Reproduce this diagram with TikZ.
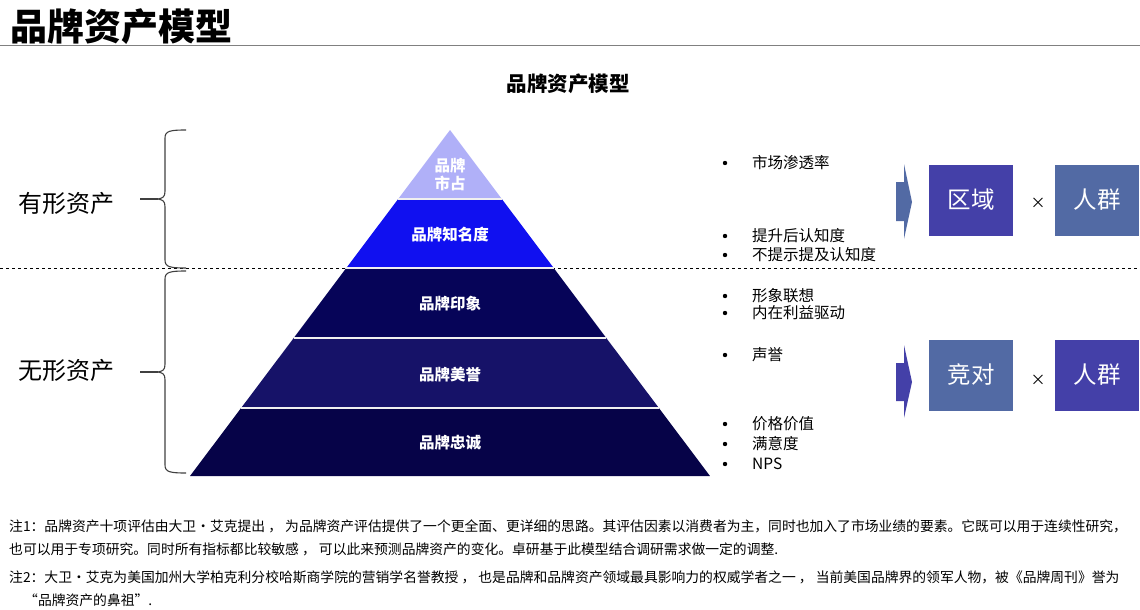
\documentclass[tikz,border=0pt]{standalone}
\usepackage{fontspec}
\setmainfont{Noto Sans CJK SC}
\usetikzlibrary{positioning}

\definecolor{topviolet}{RGB}{176,176,248}
\definecolor{brightblue}{RGB}{16,16,240}
\definecolor{navyA}{RGB}{6,4,88}
\definecolor{navyB}{RGB}{22,18,104}
\definecolor{navyC}{RGB}{6,3,72}
\definecolor{boxpurple}{RGB}{68,64,168}
\definecolor{boxsteel}{RGB}{82,106,164}
\definecolor{bracegray}{RGB}{64,64,64}

\tikzset{
  layerlabel/.style={text=white,font=\fontsize{15.5}{18}\selectfont\bfseries,align=center,inner sep=0},
  bultext/.style={anchor=west,inner sep=0,font=\fontsize{15.5}{18}\selectfont},
  sidebox/.style={minimum width=84,minimum height=71,inner sep=0,text=white,font=\fontsize{23.5}{27}\selectfont},
  notetext/.style={anchor=west,inner sep=0,font=\fontsize{13.8}{16}\selectfont},
  assetlabel/.style={anchor=west,inner sep=0,font=\fontsize{24}{28}\selectfont}
}

% bullet line: name, y, text
\newcommand{\bulletline}[3]{%
  \fill (725,#2) circle (2.2);
  \node[bultext] (#1) at (752,#2) {#3};}

% brace pointing left: top y, bottom y
\newcommand{\assetbrace}[2]{%
  \pgfmathsetmacro{\ym}{(#1+#2)/2}
  \draw[bracegray,line width=1.1] (186,#1) .. controls (170,#1) and (165,#1+1) .. (165,#1+8)
    -- (165,\ym-8) .. controls (165,\ym-2) and (163,\ym-1) .. (158,\ym)
    .. controls (163,\ym+1) and (165,\ym+2) .. (165,\ym+8)
    -- (165,#2-8) .. controls (165,#2-1) and (170,#2) .. (186,#2);
  \draw[bracegray,line width=1.1] (140,\ym) -- (158,\ym);}

\begin{document}
\begin{tikzpicture}[x=1pt,y=-1pt]
\useasboundingbox (0,0) rectangle (1140,610);

% heading
\node[anchor=west,inner sep=0,font=\fontsize{37}{41}\selectfont\bfseries] (heading) at (10,27) {品牌资产模型};
\draw[gray,line width=1] (0,46) -- (1140,46);
\node[inner sep=0,font=\fontsize{20.5}{24}\selectfont\bfseries] (subtitle) at (568,84) {品牌资产模型};

% divider between tangible and intangible
\draw[dashed,line width=0.8] (0,268) -- (1140,268);

% pyramid layers
\foreach \ya/\yb/\col in {199/268/brightblue,268/338/navyA,338/408/navyB,408/476/navyC} {
  \fill[\col] ({450-(\ya-130)*0.7514},\ya) -- ({450+(\ya-130)*0.7514},\ya)
    -- ({450+(\yb-130)*0.7514},\yb) -- ({450-(\yb-130)*0.7514},\yb) -- cycle;
}
\fill[topviolet] (450,130) -- ({450+69*0.7514},199) -- ({450-69*0.7514},199) -- cycle;
\foreach \y in {199,268,338,408} {
  \draw[white!88!gray,line width=1.6] ({450-(\y-130)*0.7514},\y) -- ({450+(\y-130)*0.7514},\y);
}

\node[layerlabel] (share) at (450,175) {品牌\\市占};
\node[layerlabel] (aware) at (450,235) {品牌知名度};
\node[layerlabel] (image) at (450,304) {品牌印象};
\node[layerlabel] (repute) at (450,375) {品牌美誉};
\node[layerlabel] (loyal) at (450,443) {品牌忠诚};

% braces and asset labels
\assetbrace{130}{268}
\assetbrace{271}{473}
\node[assetlabel] (tangible) at (18,203) {有形资产};
\node[assetlabel] (intangible) at (18,370) {无形资产};

% indicators
\bulletline{pen}{163}{市场渗透率}
\bulletline{aided}{236}{提升后认知度}
\bulletline{unaided}{255}{不提示提及认知度}
\bulletline{assoc}{296}{形象联想}
\bulletline{benefit}{313}{内在利益驱动}
\bulletline{fame}{355}{声誉}
\bulletline{value}{424}{价格价值}
\bulletline{satis}{444}{满意度}
\bulletline{nps}{464}{NPS}

% arrows
\fill[boxsteel] (896,182) -- (904,182) -- (904,164) -- (912,202) -- (904,239) -- (904,221) -- (896,221) -- cycle;
\fill[boxpurple] (896,363) -- (904,363) -- (904,345) -- (912,382) -- (904,418) -- (904,401) -- (896,401) -- cycle;

% dimension boxes
\node[sidebox,fill=boxpurple] (region) at (971,200) {区域};
\node[sidebox,fill=boxsteel] (crowdA) at (1097,200) {人群};
\node[inner sep=0,font=\fontsize{15}{18}\selectfont] (timesA) at (1038,203) {×};
\node[sidebox,fill=boxsteel] (rival) at (971,375) {竞对};
\node[sidebox,fill=boxpurple] (crowdB) at (1097,375) {人群};
\node[inner sep=0,font=\fontsize{15}{18}\selectfont] (timesB) at (1038,380) {×};

% notes
\node[notetext] (noteA) at (9,526) {注1：品牌资产十项评估由大卫·艾克提出 ， 为品牌资产评估提供了一个更全面、更详细的思路。其评估因素以消费者为主，同时也加入了市场业绩的要素。它既可以用于连续性研究，};
\node[notetext] (noteB) at (9,549) {也可以用于专项研究。同时所有指标都比较敏感 ， 可以此来预测品牌资产的变化。卓研基于此模型结合调研需求做一定的调整.};
\node[notetext] (noteC) at (9,577) {注2：大卫·艾克为美国加州大学柏克利分校哈斯商学院的营销学名誉教授 ， 也是品牌和品牌资产领域最具影响力的权威学者之一 ， 当前美国品牌界的领军人物，被《品牌周刊》誉为};
\node[notetext] (noteD) at (24,600) {“品牌资产的鼻祖”.};
\end{tikzpicture}
\end{document}
